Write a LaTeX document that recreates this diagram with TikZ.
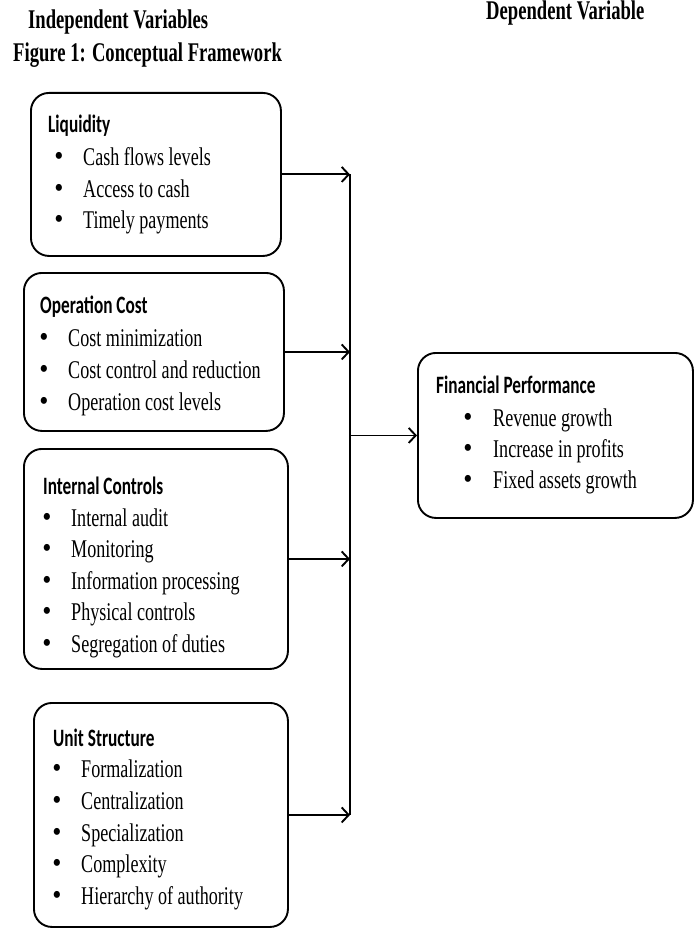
\documentclass[tikz,border=0pt]{standalone}
\usepackage{fontspec}
\usepackage{tikz}
\usetikzlibrary{arrows.meta}

\newfontfamily\headfont[FakeStretch=0.69]{Carlito}
\newfontfamily\itemfont[FakeStretch=0.71]{Liberation Serif}
\newfontfamily\dotfont[FakeStretch=0.9]{Liberation Serif}
\newfontfamily\titlefont[FakeStretch=0.69]{Liberation Serif}

\tikzset{
  varbox/.style={draw, line width=1.9pt, rounded corners=18pt, anchor=north west, inner sep=0pt},
  boxhead/.style={anchor=base west, inner sep=0pt, font=\headfont\bfseries\fontsize{25}{28}\selectfont},
  itemtext/.style={anchor=base west, inner sep=0pt, font=\itemfont\fontsize{25.5}{28}\selectfont},
  bulletdot/.style={anchor=base, inner sep=0pt, font=\dotfont\fontsize{29}{30}\selectfont},
  toptitle/.style={anchor=base west, inner sep=0pt, font=\titlefont\bfseries\fontsize{27}{30}\selectfont},
  flow/.style={line width=1.9pt, -{Straight Barb[length=7pt, width=15pt, line width=1.9pt]}},
  link/.style={line width=1.9pt}
}

\begin{document}
\begin{tikzpicture}[x=1pt, y=-1pt]
	\useasboundingbox (0,0) rectangle (697,928);

	% Titles
	\node [toptitle] (indep) at (28,29) {Independent Variables};
	\node [toptitle] (dep)   at (486,20) {Dependent Variable};
	\node [toptitle] (fig)   at (13,62) {Figure 1: Conceptual Framework};

	% Boxes
	\node [varbox, minimum width=250pt, minimum height=163pt] (liq) at (30,92)  {};
	\node [varbox, minimum width=260pt, minimum height=158pt] (opc) at (23,272) {};
	\node [varbox, minimum width=264pt, minimum height=220pt] (inc) at (23,448) {};
	\node [varbox, minimum width=254pt, minimum height=224pt] (uns) at (33,702) {};
	\node [varbox, minimum width=275pt, minimum height=165pt] (fin) at (417,352) {};

	% Liquidity
	\node [boxhead] (liq-h) at (48,133) {Liquidity};
	\foreach \t [count=\i] in {Cash flows levels, Access to cash, Timely payments} {
		\node [bulletdot] (liq-b\i) at (59,{135+31*\i}) {\textbullet};
		\node [itemtext]  (liq-\i)  at (83,{135+31*\i}) {\t};
	}

	% Operation Cost
	\node [boxhead] (opc-h) at (40,313) {Operation Cost};
	\foreach \t [count=\i] in {Cost minimization, Cost control and reduction, Operation cost levels} {
		\node [bulletdot] (opc-b\i) at (44,{314+32*\i}) {\textbullet};
		\node [itemtext]  (opc-\i)  at (68,{314+32*\i}) {\t};
	}

	% Internal Controls
	\node [boxhead] (inc-h) at (43,494) {Internal Controls};
	\foreach \t [count=\i] in {Internal audit, Monitoring, Information processing, Physical controls, Segregation of duties} {
		\node [bulletdot] (inc-b\i) at (47,{494.5+31.5*\i}) {\textbullet};
		\node [itemtext]  (inc-\i)  at (71,{494.5+31.5*\i}) {\t};
	}

	% Unit Structure
	\node [boxhead] (uns-h) at (53,746) {Unit Structure};
	\foreach \t [count=\i] in {Formalization, Centralization, Specialization, Complexity, Hierarchy of authority} {
		\node [bulletdot] (uns-b\i) at (57,{746+31.7*\i}) {\textbullet};
		\node [itemtext]  (uns-\i)  at (81,{746+31.7*\i}) {\t};
	}

	% Financial Performance
	\node [boxhead] (fin-h) at (436,393) {Financial Performance};
	\foreach \t [count=\i] in {Revenue growth, Increase in profits, Fixed assets growth} {
		\node [bulletdot] (fin-b\i) at (468,{395+31*\i}) {\textbullet};
		\node [itemtext]  (fin-\i)  at (493,{395+31*\i}) {\t};
	}

	% Connectors
	\coordinate (bus) at (350,0);
	\draw [link] (liq.east -| bus) -- (uns.east -| bus);
	\foreach \b in {liq, opc, inc, uns}
		\draw [flow] (\b.east) -- (\b.east -| bus);
	\draw [flow] (bus |- fin.west) -- (fin.west);
\end{tikzpicture}
\end{document}
